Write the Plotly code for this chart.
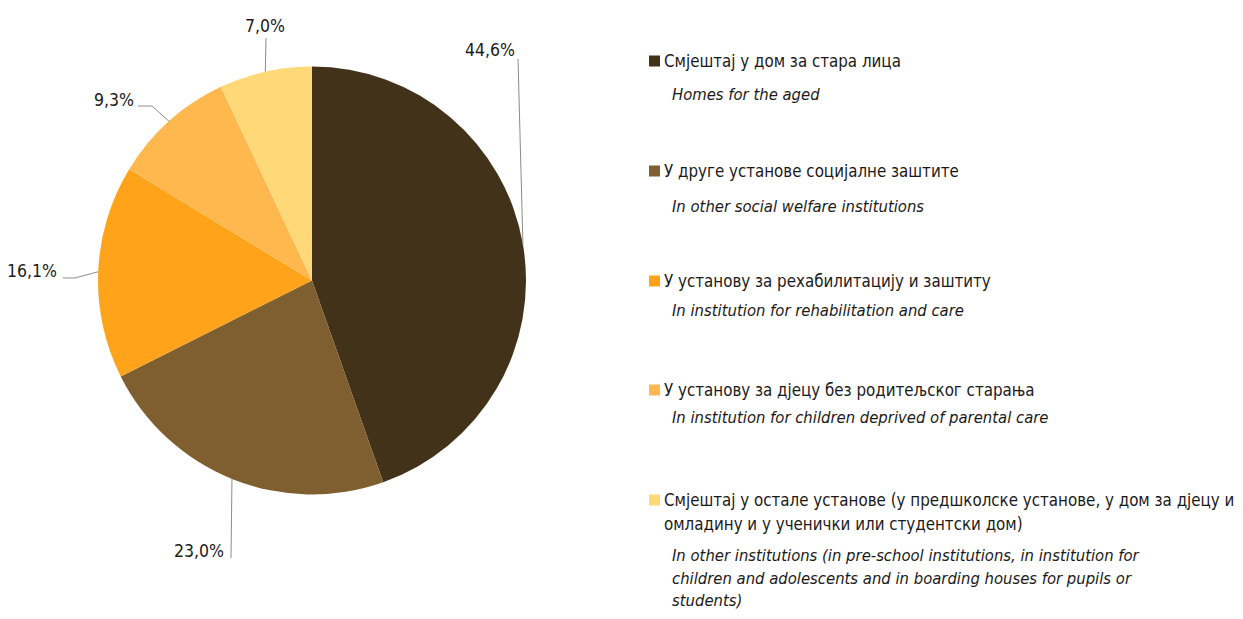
import math
import plotly.graph_objects as go

# page body has an 8px margin: draw the figure 16px smaller and offset coordinates
OFF = 8
W, H = 1243 - 2 * OFF, 619 - 2 * OFF

# ---- data ----
labels_sr = [
    "Смјештај у дом за стара лица",
    "У друге установе социјалне заштите",
    "У установу за рехабилитацију и заштиту",
    "У установу за дјецу без родитељског старања",
    "Смјештај у остале установе (у предшколске установе, у дом за дјецу и|омладину и у ученички или студентски дом)",
]
labels_en = [
    "Homes for the aged",
    "In other social welfare institutions",
    "In institution for rehabilitation and care",
    "In institution for children deprived of parental care",
    "In other institutions (in pre-school institutions, in institution for|children and adolescents and in boarding houses for pupils or|students)",
]
values = [44.6, 23.0, 16.1, 9.3, 7.0]
colors = ["#43321A", "#7F5E2F", "#FFA31A", "#FFB84D", "#FFD978"]

# ---- layout constants (pixels in the 1243x619 window) ----
CX, CY, R = 312, 280.5, 214
FONT = "DejaVu Sans Condensed, Liberation Sans Narrow, Arial Narrow, sans-serif"
TXT = "#1a1a1a"
LINE = "#8c8c8c"

def px(x):
    return (x - OFF) / W

def py(y):
    return 1 - (y - OFF) / H

fig = go.Figure(go.Pie(
    labels=[l.replace("|", " ") for l in labels_sr],
    values=values,
    sort=False,
    direction="clockwise",
    rotation=0,
    marker=dict(colors=colors, line=dict(width=0)),
    textinfo="none",
    hoverinfo="label+percent",
    showlegend=False,
    domain=dict(x=[px(CX - R), px(CX + R)], y=[py(CY + R), py(CY - R)]),
))

# label placements: (text anchor x, y, xanchor, leader path points before edge)
label_cfg = [
    dict(x=490, y=50, xa="center", pts=[(518, 59)]),
    dict(x=226, y=551, xa="right", pts=[(231, 558)]),
    dict(x=59, y=271, xa="right", pts=[(63, 278), (75, 278)]),
    dict(x=136, y=100, xa="right", pts=[(138, 106), (152, 106)]),
    dict(x=265, y=26, xa="center", pts=[(266, 38)]),
]

annotations = []
shapes = []
total = sum(values)
cum = 0.0
for v, cfg in zip(values, label_cfg):
    mid = (cum + v / 2) / total * 2 * math.pi
    cum += v
    ex = CX + R * math.sin(mid)
    ey = CY - R * math.cos(mid)
    pts = cfg["pts"] + [(ex, ey)]
    path = "M " + " L ".join(f"{px(a):.5f},{py(b):.5f}" for a, b in pts)
    shapes.append(dict(type="path", xref="paper", yref="paper", path=path,
                       line=dict(color=LINE, width=1)))
    annotations.append(dict(
        x=px(cfg["x"]), y=py(cfg["y"]), xref="paper", yref="paper",
        text=f"{v:.1f}%".replace(".", ","), showarrow=False,
        xanchor=cfg["xa"], yanchor="middle",
        font=dict(family=FONT, size=17.5, color=TXT),
    ))

# custom legend
main_y = [[61], [171], [281], [390], [500, 524]]
ital_y = [[94], [207], [310], [417], [555, 578, 600]]
SQ = 11
for sr, en, col, my, iy in zip(labels_sr, labels_en, colors, main_y, ital_y):
    shapes.append(dict(type="rect", xref="paper", yref="paper",
                       x0=px(649), x1=px(649 + SQ),
                       y0=py(my[0] + SQ / 2), y1=py(my[0] - SQ / 2),
                       fillcolor=col, line=dict(width=0)))
    for line, yy in zip(sr.split("|"), my):
        annotations.append(dict(
            x=px(662), y=py(yy), xref="paper", yref="paper", text=line,
            showarrow=False, xanchor="left", yanchor="middle",
            font=dict(family=FONT, size=16.8, color=TXT)))
    for line, yy in zip(en.split("|"), iy):
        annotations.append(dict(
            x=px(670), y=py(yy), xref="paper", yref="paper", text=f"<i>{line}</i>",
            showarrow=False, xanchor="left", yanchor="middle",
            font=dict(family=FONT, size=16.5, color=TXT)))

fig.update_layout(
    width=W, height=H,
    margin=dict(l=0, r=0, t=0, b=0),
    paper_bgcolor="white", plot_bgcolor="white",
    shapes=shapes, annotations=annotations,
)

fig.write_html("out.html")
